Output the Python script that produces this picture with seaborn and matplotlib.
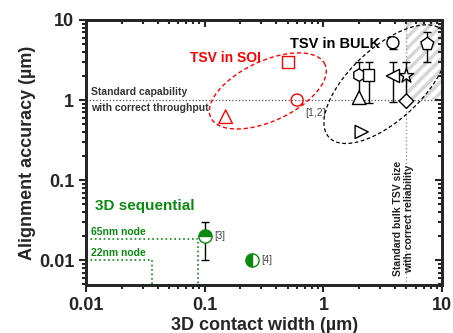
import numpy as np
import pandas as pd
import seaborn as sns
import matplotlib.pyplot as plt
from matplotlib.ticker import FuncFormatter, LogLocator, NullFormatter

# TSV in SOI (red, open markers)
soi_x = [0.5, 0.6, 0.15]
soi_y = [3.0, 1.0, 0.62]
soi_mk = ['s', 'o', '^']

# TSV in bulk (black, open markers)
bulk_x = [3.85, 7.5, 2.0, 2.4, 2.0, 3.85, 5.0, 5.0, 2.1]
bulk_y = [5.2, 5.0, 2.05, 2.05, 1.07, 2.0, 2.0, 0.97, 0.40]
bulk_lo = [4.4, 3.0, 1.0, 0.92, 1.07, 0.94, 0.97, 0.97, 0.40]
bulk_hi = [5.2, 7.1, 3.0, 3.0, 1.07, 3.0, 3.0, 0.97, 0.40]
bulk_mk = ['o', 'p', 'h', 's', '^', '<', '*', 'D', '>']

# 3D sequential (green, half filled)
seq_x = [0.1, 0.25]
seq_y = [0.02, 0.01]
seq_lo = [0.01, 0.01]
seq_hi = [0.03, 0.01]
seq_fill = ['top', 'left']
seq_ref = ['[3]', '[4]']

green = '#0b8a12'
msize = {'o': 75, 's': 70, '^': 95, 'p': 95, 'h': 80, '<': 90, '>': 90, '*': 120, 'D': 55}

sns.set_style('ticks')
plt.rcParams['font.family'] = ['Liberation Sans', 'DejaVu Sans']
plt.rcParams['hatch.linewidth'] = 2.5
plt.rcParams['hatch.color'] = '#d6d6d6'

fig, ax = plt.subplots(figsize=(4.53, 3.33), dpi=100)
fig.subplots_adjust(left=0.19, right=0.976, bottom=0.144, top=0.94)
ax.set_xscale('log')
ax.set_yscale('log')
ax.set_xlim(0.01, 10)
ax.set_ylim(0.0049, 10)

# reference regions
ax.fill_between([5, 10], 1, 10, facecolor='white', hatch='///', edgecolor='#d6d6d6', linewidth=0, zorder=0)
ax.plot([0.01, 10], [1, 1], ls=':', color='#555555', lw=0.9, zorder=1)
ax.plot([5, 5], [0.0049, 10], ls=':', color='#999999', lw=1.0, zorder=1)
ax.plot([0.01, 0.088, 0.088], [0.0185, 0.0185, 0.0049], ls=':', color=green, lw=1.2)
ax.plot([0.01, 0.036, 0.036], [0.01, 0.01, 0.0049], ls=':', color=green, lw=1.2)

df_soi = pd.DataFrame({'x': soi_x, 'y': soi_y, 'm': soi_mk})
sns.scatterplot(data=df_soi, x='x', y='y', style='m', markers={m: m for m in soi_mk},
                size='m', sizes={m: msize[m] for m in soi_mk},
                facecolor='none', edgecolor='red', linewidth=1.0, legend=False, ax=ax, zorder=3)

for x, y, lo, hi in zip(bulk_x, bulk_y, bulk_lo, bulk_hi):
    if hi > lo:
        ax.errorbar([x], [y], yerr=[[y - lo], [hi - y]], fmt='none', ecolor='black', elinewidth=1, capsize=3, zorder=2)
df_bulk = pd.DataFrame({'x': bulk_x, 'y': bulk_y, 'm': bulk_mk})
sns.scatterplot(data=df_bulk, x='x', y='y', style='m', markers={m: m for m in bulk_mk},
                size='m', sizes={m: msize[m] for m in bulk_mk},
                facecolor='white', edgecolor='black', linewidth=1.0, legend=False, ax=ax, zorder=3)

for x, y, lo, hi, f, r in zip(seq_x, seq_y, seq_lo, seq_hi, seq_fill, seq_ref):
    ax.errorbar([x], [y], yerr=[[y - lo], [hi - y]], fmt='o', ms=9.5, color=green, mec=green,
                fillstyle=f, markerfacecoloralt='white', ecolor='black', elinewidth=1, capsize=3, zorder=3)
    ax.annotate(r, (x, y), xytext=(7, 0), textcoords='offset points', va='center', fontsize=7, color='#444444')


def ellipse(cx, cy, a, b, ang, **kw):
    # a, b in pixels, drawn in display space so it looks right on log axes
    fig.canvas.draw()
    c = ax.transData.transform((cx, cy))
    t = np.linspace(0, 2 * np.pi, 300)
    th = np.deg2rad(ang)
    px = c[0] + a * np.cos(t) * np.cos(th) - b * np.sin(t) * np.sin(th)
    py = c[1] + a * np.cos(t) * np.sin(th) + b * np.sin(t) * np.cos(th)
    d = ax.transData.inverted().transform(np.column_stack([px, py]))
    ax.plot(d[:, 0], d[:, 1], **kw)


ellipse(0.34, 1.3, 63, 30, 25, ls=(0, (3, 2)), color='red', lw=1.0)
ellipse(3.37, 1.58, 78, 36, 43, ls=(0, (3, 2)), color='black', lw=0.9)

ax.text(0.011, 1.08, 'Standard capability', fontsize=7.5, fontweight='bold', color='#333333', va='bottom')
ax.text(0.011, 0.93, 'with correct throughput', fontsize=7.5, fontweight='bold', color='#333333', va='top')
ax.text(0.148, 3.0, 'TSV in SOI', fontsize=10, fontweight='bold', color='red', ha='center')
ax.text(1.25, 4.5, 'TSV in BULK', fontsize=10.5, fontweight='bold', color='black', ha='center')
ax.text(0.7, 0.63, '[1,2]', fontsize=7.5, color='#444444', ha='left')
ax.text(0.0119, 0.043, '3D sequential', fontsize=11, fontweight='bold', color=green)
ax.text(0.011, 0.0205, '65nm node', fontsize=7.5, fontweight='bold', color=green)
ax.text(0.011, 0.0112, '22nm node', fontsize=7.5, fontweight='bold', color=green)
ax.text(4.75, 0.0063, 'Standard bulk TSV size\nwith correct reliability', fontsize=7.5, fontweight='bold',
        color='#222222', rotation=90, ha='center', va='bottom', linespacing=1.1)

ax.set_xlabel('3D contact width (µm)', fontsize=13, fontweight='bold', labelpad=2)
ax.set_ylabel('Alignment accuracy (µm)', fontsize=13, fontweight='bold', labelpad=2)

fmt = FuncFormatter(lambda v, p: '%g' % v)
for axis in (ax.xaxis, ax.yaxis):
    axis.set_major_locator(LogLocator(base=10, numticks=10))
    axis.set_major_formatter(fmt)
    axis.set_minor_locator(LogLocator(base=10, subs=np.arange(2, 10), numticks=10))
ax.tick_params(which='both', labelsize=13, width=1.5, direction='out')
ax.tick_params(which='major', length=5)
ax.tick_params(which='minor', length=3)
for lab in ax.get_xticklabels() + ax.get_yticklabels():
    lab.set_fontweight('bold')
for s in ax.spines.values():
    s.set_linewidth(2)
    s.set_visible(True)

# inward ticks on top and right
top = ax.twiny()
top.set_xscale('log')
top.set_xlim(ax.get_xlim())
right = ax.twinx()
right.set_yscale('log')
right.set_ylim(ax.get_ylim())
for a2, axis in ((top, top.xaxis), (right, right.yaxis)):
    axis.set_major_locator(LogLocator(base=10, numticks=10))
    axis.set_minor_locator(LogLocator(base=10, subs=np.arange(2, 10), numticks=10))
    axis.set_major_formatter(NullFormatter())
    axis.set_minor_formatter(NullFormatter())
    a2.tick_params(which='both', direction='in', width=1.5)
    a2.tick_params(which='major', length=5)
    a2.tick_params(which='minor', length=3)
    for s in a2.spines.values():
        s.set_linewidth(2)
top.yaxis.set_visible(False)
right.xaxis.set_visible(False)

fig.savefig('out.png', dpi=100)
